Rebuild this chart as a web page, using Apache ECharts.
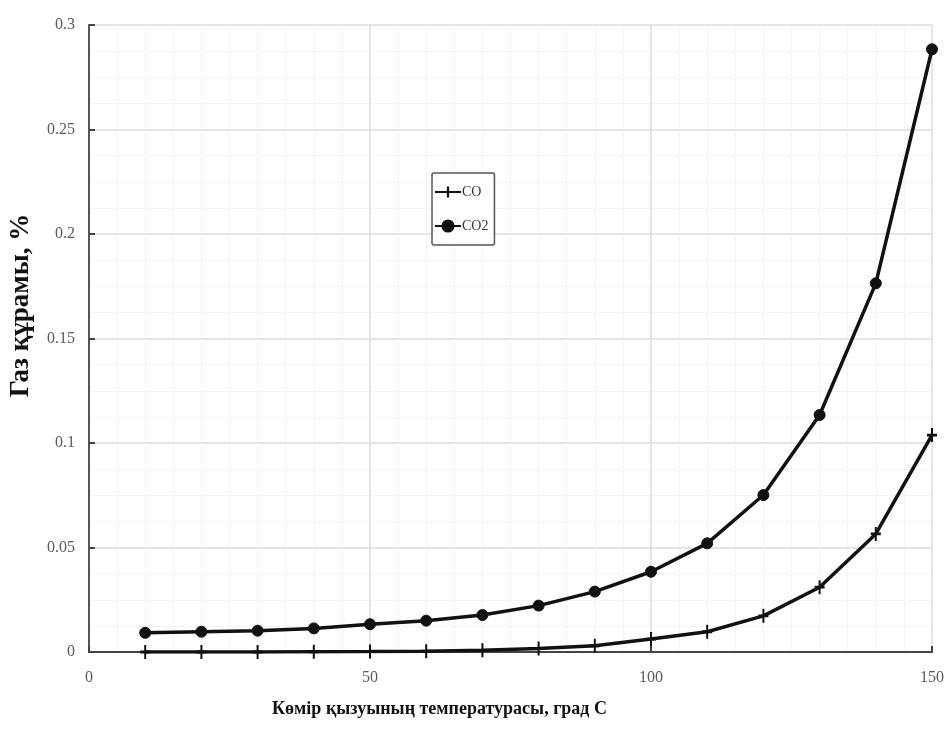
<!DOCTYPE html>
<html>
<head>
<meta charset="utf-8">
<script src="https://cdn.jsdelivr.net/npm/echarts@6/dist/echarts.min.js"></script>
<style>
  html, body { margin: 0; padding: 0; background: #fff; }
  #chart { width: 947px; height: 731px; }
</style>
</head>
<body>
<div id="chart"></div>
<script>
  // температура, град С
  var temps = [10, 20, 30, 40, 50, 60, 70, 80, 90, 100, 110, 120, 130, 140, 150];
  // газ құрамы, %
  var coValues = [0, 0, 0, 0.0001, 0.0002, 0.0004, 0.0008, 0.0017, 0.003, 0.0062, 0.0097, 0.0173, 0.031, 0.0565, 0.1038];
  var co2Values = [0.0092, 0.0097, 0.0102, 0.0113, 0.0133, 0.015, 0.0177, 0.0222, 0.0289, 0.0384, 0.052, 0.0751, 0.1134, 0.1764, 0.2884];
  var seriesNames = ['CO', 'CO2'];

  var xName = 'Көмір қызуының температурасы, град С';
  var yName = 'Газ құрамы, %';

  function pairs(xs, ys) {
    var out = [];
    for (var i = 0; i < xs.length; i++) {
      out.push([xs[i], ys[i]]);
    }
    return out;
  }

  //плюс белгісі
  var plusSymbol = 'path://M4,0 L6,0 L6,4 L10,4 L10,6 L6,6 L6,10 L4,10 L4,6 L0,6 L0,4 L4,4 Z';

  var labelFont = {
    fontFamily: 'Liberation Serif',
    fontSize: 16,
    color: '#5a5a5a'
  };

  var chart = echarts.init(document.getElementById('chart'));
  var option = {
    backgroundColor: '#fff',
    animation: false,
    grid: {
      left: 89,
      right: 14,
      top: 25,
      bottom: 79
    },
    legend: {
      orient: 'vertical',
      left: 432,
      top: 173,
      padding: [12, 6, 12, 2],
      itemGap: 20,
      itemWidth: 26,
      itemHeight: 14,
      borderColor: '#555',
      borderWidth: 1.5,
      borderRadius: 2,
      backgroundColor: '#fff',
      textStyle: {
        fontFamily: 'Liberation Serif',
        fontSize: 14,
        color: '#333',
        padding: [0, 0, 0, -4]
      },
      data: seriesNames
    },
    xAxis: {
      type: 'value',
      min: 0,
      max: 150,
      interval: 50,
      name: xName,
      nameLocation: 'middle',
      nameGap: 48,
      nameTextStyle: {
        fontFamily: 'Liberation Serif',
        fontWeight: 'bold',
        fontSize: 18,
        color: '#111',
        padding: [0, 142, 0, 0]
      },
      axisLine: { lineStyle: { color: '#444', width: 2 } },
      axisTick: { inside: true, length: 6, lineStyle: { color: '#444', width: 2 } },
      axisLabel: Object.assign({ margin: 18 }, labelFont),
      splitLine: { lineStyle: { color: '#dcdcdc', width: 1.5 } },
      minorTick: { show: false, splitNumber: 10 },
      minorSplitLine: { show: true, lineStyle: { color: '#ebebeb', width: 1, type: 'dotted' } }
    },
    yAxis: {
      type: 'value',
      min: 0,
      max: 0.3,
      interval: 0.05,
      name: yName,
      nameLocation: 'middle',
      nameGap: 54,
      nameTextStyle: {
        fontFamily: 'Liberation Serif',
        fontWeight: 'bold',
        fontSize: 27,
        color: '#111',
        padding: [0, 0, 0, 66]
      },
      axisLine: { show: true, lineStyle: { color: '#555', width: 2 } },
      axisTick: { show: true, inside: true, length: 6, lineStyle: { color: '#444', width: 2 } },
      axisLabel: Object.assign({ margin: 14 }, labelFont),
      splitLine: { lineStyle: { color: '#dcdcdc', width: 1.5 } },
      minorTick: { show: false, splitNumber: 4 },
      minorSplitLine: { show: true, lineStyle: { color: '#ebebeb', width: 1, type: 'dotted' } }
    },
    series: [{
      name: seriesNames[0],
      type: 'line',
      data: pairs(temps, coValues),
      symbol: plusSymbol,
      symbolSize: [10, 14],
      showAllSymbol: true,
      lineStyle: { color: '#111', width: 3.5 },
      itemStyle: { color: '#111' },
      z: 3
    }, {
      name: seriesNames[1],
      type: 'line',
      data: pairs(temps, co2Values),
      symbol: 'circle',
      symbolSize: 11,
      showAllSymbol: true,
      lineStyle: { color: '#111', width: 3.5 },
      itemStyle: { color: '#111', borderColor: '#111', borderWidth: 1 },
      z: 4
    }]
  };
  chart.setOption(option);
</script>
</body>
</html>
